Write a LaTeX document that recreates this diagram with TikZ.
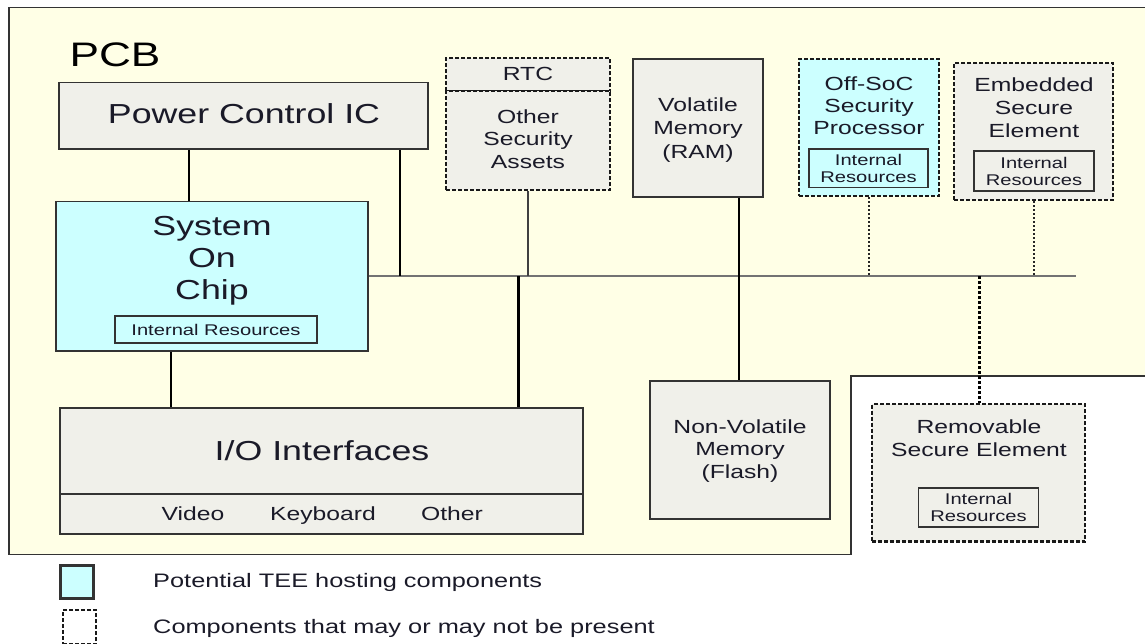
\documentclass[tikz,border=0pt]{standalone}
\usepackage{fontspec}
\setmainfont{Liberation Sans}[FakeStretch=1.3]
\definecolor{pcbyellow}{HTML}{FFFFE6}
\definecolor{boxgray}{HTML}{F0F0EA}
\definecolor{teecyan}{HTML}{CCFFFF}
\definecolor{ink}{HTML}{1A1A28}
\newcommand\fsz[2]{\fontsize{#1pt}{#2pt}\selectfont}
\tikzset{
  box/.style={draw=black!80, line width=1.5pt, inner sep=0pt, rectangle},
  graybox/.style={box, fill=boxgray},
  cyanbox/.style={box, fill=teecyan},
  optional/.style={dash pattern=on 4pt off 2pt, line width=2.2pt, draw=black!90},
  inbox/.style={draw=black!80, line width=1.4pt, inner sep=0pt, rectangle, align=center, text=ink, font=\fsz{15.5}{17}},
  txt/.style={inner sep=0pt, align=center, text=ink},
  conn/.style={draw=black, line width=2.6pt},
  bus/.style={draw=black!55, line width=1.5pt},
  dotconn/.style={draw=black!85, line width=2pt, dash pattern=on 2pt off 2pt},
  dotconnthick/.style={draw=black, line width=3pt, dash pattern=on 3pt off 2pt}
}
\begin{document}
\begin{tikzpicture}[x=1pt,y=-1pt]
\useasboundingbox (0,0) rectangle (1145,643);
% PCB board
\fill[pcbyellow] (9,7.5) -- (1150,7.5) -- (1150,376) -- (851,376) -- (851,554.5) -- (9,554.5) -- cycle;
\draw[black!80, line width=1.5pt] (1150,7.5) -- (9,7.5) -- (9,554.5) -- (851,554.5) -- (851,376) -- (1150,376);
\node[txt, font=\fsz{34}{38}, text=black] (pcb) at (115,55) {PCB};

% Power control IC
\node[graybox, minimum width=369pt, minimum height=66.5pt] (pcic) at (243.5,115.75) {};
\node[txt, font=\fsz{27.5}{32}] (pcict) at (244,114) {Power Control IC};

% System on chip
\node[cyanbox, minimum width=312pt, minimum height=149.5pt] (soc) at (212,276.25) {};
\node[txt, font=\fsz{27.5}{32}] (soct) at (212,261) {System\\On\\Chip};
\node[inbox, minimum width=202pt, minimum height=27pt] (socir) at (216,329.5) {Internal Resources};

% I/O Interfaces
\node[graybox, minimum width=523pt, minimum height=86.5pt] (io) at (321.5,451) {};
\node[graybox, minimum width=523pt, minimum height=40pt] (iosub) at (321.5,514) {};
\node[txt, font=\fsz{27.5}{32}] (iot) at (322,451) {I/O Interfaces};
\node[txt, font=\fsz{19}{22}, anchor=base] (video) at (193,520) {Video};
\node[txt, font=\fsz{19}{22}, anchor=base] (kbd) at (323,520) {Keyboard};
\node[txt, font=\fsz{19}{22}, anchor=base] (other) at (452,520) {Other};

% RTC / Other security assets
\node[graybox, optional, minimum width=164pt, minimum height=33pt] (rtc) at (528,74.5) {};
\node[graybox, optional, minimum width=164pt, minimum height=99pt] (osa) at (528,140.5) {};
\node[txt, font=\fsz{19}{22}] (rtct) at (528,74) {RTC};
\node[txt, font=\fsz{19}{22.5}] (osat) at (528,139) {Other\\Security\\Assets};

% Volatile memory
\node[graybox, minimum width=130pt, minimum height=138pt] (ram) at (698,128) {};
\node[txt, font=\fsz{19}{23.5}] (ramt) at (698,130) {Volatile\\Memory\\(RAM)};

% Non-volatile memory
\node[graybox, minimum width=180pt, minimum height=138pt] (flash) at (740,450) {};
\node[txt, font=\fsz{19}{22.5}] (flasht) at (740,451) {Non-Volatile\\Memory\\(Flash)};

% Off-SoC security processor
\node[cyanbox, optional, minimum width=140pt, minimum height=137pt] (offsoc) at (869,127.5) {};
\node[txt, font=\fsz{19}{22}] (offsoct) at (869,106) {Off-SoC\\Security\\Processor};
\node[inbox, minimum width=119pt, minimum height=38.5pt, fill=teecyan] (offir) at (868.5,168.25) {Internal\\Resources};

% Embedded secure element
\node[graybox, optional, minimum width=159pt, minimum height=137pt] (ese) at (1033.5,131.5) {};
\node[txt, font=\fsz{19}{23}] (eset) at (1034,108) {Embedded\\Secure\\Element};
\node[inbox, minimum width=120pt, minimum height=40pt] (eseir) at (1034,171) {Internal\\Resources};

% Removable secure element
\node[graybox, optional, minimum width=213pt, minimum height=137.5pt] (rse) at (978.5,472.75) {};
\node[txt, font=\fsz{19}{23.5}] (rset) at (979,438) {Removable\\Secure Element};
\node[inbox, minimum width=120pt, minimum height=39pt] (rseir) at (978.5,507.5) {Internal\\Resources};

% Bus and connectors
\coordinate (busend) at (1076,276);
\coordinate (xa) at (189,0);
\coordinate (xb) at (400,0);
\coordinate (xc) at (171,0);
\coordinate (xd) at (518.5,0);
\coordinate (xe) at (528,0);
\coordinate (xf) at (739,0);
\coordinate (xg) at (869,0);
\coordinate (xh) at (1034,0);
\coordinate (xi) at (979,0);
\draw[bus] (soc.east |- busend) -- (busend);
\draw[conn] (xa |- pcic.south) -- (xa |- soc.north);
\draw[conn] (xb |- pcic.south) -- (xb |- busend);
\draw[conn] (xc |- soc.south) -- (xc |- io.north);
\draw[conn] (xd |- busend) -- (xd |- io.north);
\draw[conn, line width=2pt, draw=black!75] (xe |- osa.south) -- (xe |- busend);
\draw[conn, line width=2.8pt] (xf |- ram.south) -- (xf |- flash.north);
\draw[dotconn] (xg |- offsoc.south) -- (xg |- busend);
\draw[dotconn] (xh |- ese.south) -- (xh |- busend);
\draw[dotconnthick] (xi |- busend) -- (xi |- rse.north);

% Legend
\node[cyanbox, line width=3pt, minimum width=33pt, minimum height=33pt] (legtee) at (77,581.5) {};
\node[optional, minimum width=33pt, minimum height=34pt, inner sep=0pt] (legopt) at (79.5,627) {};
\node[txt, font=\fsz{19.5}{22}, anchor=west] (legteet) at (153,582) {Potential TEE hosting components};
\node[txt, font=\fsz{19.5}{22}, anchor=west] (legoptt) at (153,628) {Components that may or may not be present};
\end{tikzpicture}
\end{document}
